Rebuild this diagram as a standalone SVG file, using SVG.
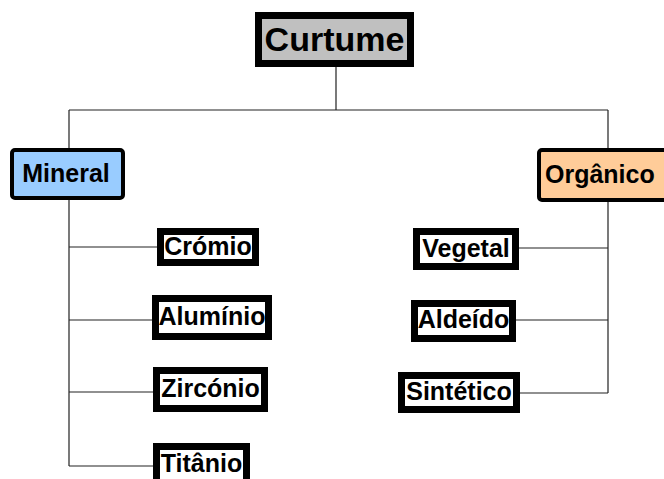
<svg xmlns="http://www.w3.org/2000/svg" width="664" height="479" viewBox="0 0 664 479">
<style>
.box{fill:#fff;stroke:#000;stroke-width:7}
.t{font-family:"Liberation Sans",Arial,sans-serif;font-weight:bold;font-size:25px;fill:#000;text-anchor:middle}
.c{fill:none;stroke:#222;stroke-width:1.2}
</style>
<rect width="664" height="479" fill="#fff"/>
<g id="connectors">
<path class="c" d="M336 67V110M69 110H608M69 110V150M69 200V466M69 247H157M69 320H152M69 392H153M69 466H153M608 110V150M608 202V393M519 248H608M516 320H608M520 393H608"/>
</g>
<g id="curtume">
<rect x="258.5" y="15.5" width="152" height="48" fill="#c0c0c0" stroke="#000" stroke-width="7"/>
<text class="t" x="334.5" y="51" style="font-size:34px">Curtume</text>
</g>
<g id="mineral">
<rect x="12" y="150" width="111" height="48" rx="3" fill="#99ccff" stroke="#000" stroke-width="4"/>
<text class="t" x="66" y="182" style="font-size:25px">Mineral</text>
</g>
<g id="organico">
<rect x="539" y="150" width="130" height="50" rx="3" fill="#ffcc99" stroke="#000" stroke-width="4"/>
<text class="t" x="545" y="183" style="font-size:25px;text-anchor:start">Orgânico</text>
</g>
<g id="cromio">
<rect class="box" x="160.5" y="231.5" width="95" height="31"/>
<text class="t" x="208" y="255">Crómio</text>
</g>
<g id="aluminio">
<rect class="box" x="155.5" y="298.5" width="113" height="38"/>
<text class="t" x="212" y="325">Alumínio</text>
</g>
<g id="zirconio">
<rect class="box" x="156.5" y="370.5" width="108" height="38"/>
<text class="t" x="210.5" y="397">Zircónio</text>
</g>
<g id="titanio">
<rect class="box" x="156.5" y="446.5" width="90" height="38"/>
<text class="t" x="201.5" y="472">Titânio</text>
</g>
<g id="vegetal">
<rect class="box" x="416.5" y="231.5" width="99" height="35"/>
<text class="t" x="466" y="257">Vegetal</text>
</g>
<g id="aldeido">
<rect class="box" x="414.5" y="303.5" width="98" height="35"/>
<text class="t" x="463.5" y="328">Aldeído</text>
</g>
<g id="sintetico">
<rect class="box" x="401.5" y="375.5" width="115" height="34"/>
<text class="t" x="459" y="400">Sintético</text>
</g>
</svg>
